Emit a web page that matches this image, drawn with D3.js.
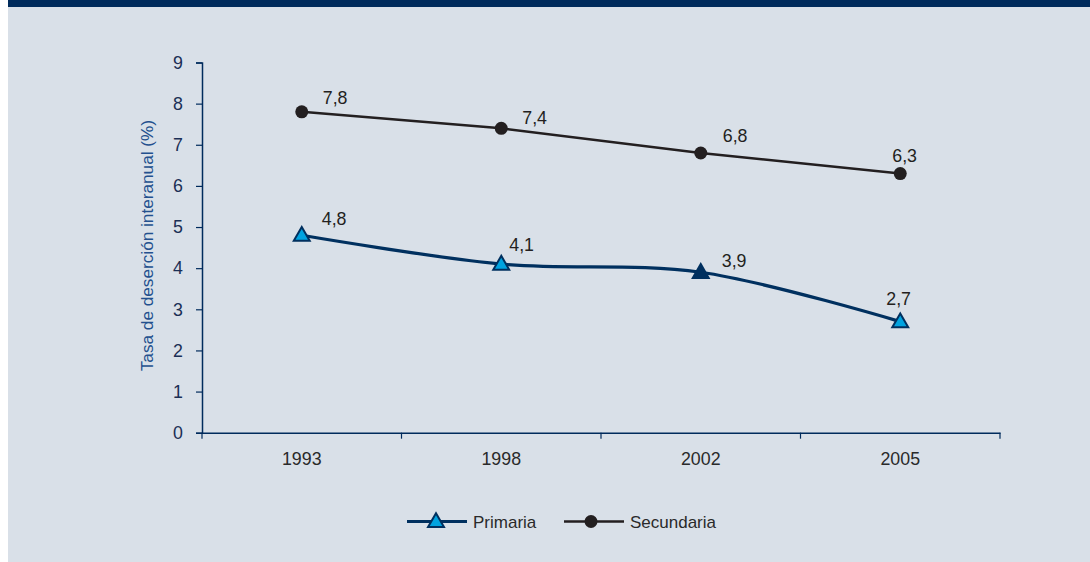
<!DOCTYPE html>
<html>
<head>
<meta charset="utf-8">
<script src="https://cdn.jsdelivr.net/npm/d3@7"></script>
<style>
html,body{margin:0;padding:0;background:#fff;}
svg{display:block;}
text{font-family:"Liberation Sans",Arial,sans-serif;}
</style>
</head>
<body>
<svg id="chart" width="1090" height="562"></svg>
<script>
const years = ["1993", "1998", "2002", "2005"];
const primaria = [4.8, 4.1, 3.9, 2.7];
const secundaria = [7.8, 7.4, 6.8, 6.3];
const yTicks = [0, 1, 2, 3, 4, 5, 6, 7, 8, 9];
const seriesNames = ["Primaria", "Secundaria"];
const yTitle = "Tasa de deserción interanual (%)";

// label placement (styling, not data)
const primLabelOff = [[20, -10], [8, -13], [21, -5], [-14, -17]];
const secLabelOff = [[21, -8], [21, -4], [22, -11], [-8, -12]];

const svg = d3.select("#chart");
const W = 1090, H = 562;
const navy = "#002b5c";
const fs = 17.8;

svg.append("rect").attr("x", 0).attr("y", 0).attr("width", W).attr("height", H).attr("fill", "#ffffff");
svg.append("rect").attr("x", 8).attr("y", 0).attr("width", W - 8).attr("height", H).attr("fill", "#d9e0e8");
svg.append("rect").attr("x", 8).attr("y", 0).attr("width", W - 8).attr("height", 7).attr("fill", navy);

const x = d3.scaleBand().domain(years).range([202, 1000]);
const y = d3.scaleLinear().domain([0, 9]).range([432.7, 62.5]);

// Y axis
const yAxis = svg.append("g").attr("transform", "translate(202,0)")
  .call(d3.axisLeft(y).tickValues(yTicks).tickSize(6).tickPadding(13).tickFormat(d3.format("d")));
yAxis.select(".domain").attr("stroke", navy).attr("stroke-width", 1.5);
yAxis.selectAll(".tick line").attr("stroke", navy).attr("stroke-width", 1.2);
yAxis.selectAll(".tick text").attr("fill", "#1b2f55").attr("font-size", fs)
  .attr("font-family", "'Liberation Sans', Arial, sans-serif");

// X axis
const xAxis = svg.append("g").attr("transform", "translate(0," + y(0) + ")")
  .call(d3.axisBottom(x).tickSize(0).tickPadding(20));
xAxis.select(".domain").attr("stroke", navy).attr("stroke-width", 1.5);
xAxis.selectAll(".tick text").attr("fill", "#2a2a2a").attr("font-size", fs)
  .attr("font-family", "'Liberation Sans', Arial, sans-serif");
// boundary ticks between bands
const bounds = years.map(d => x(d)).concat([x.range()[1]]);
svg.append("g").selectAll("line").data(bounds).join("line")
  .attr("x1", d => d).attr("x2", d => d)
  .attr("y1", y(0)).attr("y2", y(0) + 6)
  .attr("stroke", navy).attr("stroke-width", 1.2);

// Y title
svg.append("text")
  .attr("transform", "translate(153," + ((y(0) + y(9)) / 2 - 2) + ") rotate(-90)")
  .attr("text-anchor", "middle")
  .attr("fill", "#23508e")
  .attr("font-size", 17.2)
  .text(yTitle);

const cx = d => x(d) + x.bandwidth() / 2;

// Secundaria line
const lineS = d3.line().x((d, i) => cx(years[i])).y(d => y(d));
svg.append("path").datum(secundaria).attr("d", lineS)
  .attr("fill", "none").attr("stroke", "#231f20").attr("stroke-width", 2.5);
svg.append("g").selectAll("circle").data(secundaria).join("circle")
  .attr("cx", (d, i) => cx(years[i])).attr("cy", d => y(d)).attr("r", 6.5)
  .attr("fill", "#231f20");

// Primaria line (smoothed)
const lineP = d3.line().x((d, i) => cx(years[i])).y(d => y(d)).curve(d3.curveCardinal.tension(0));
svg.append("path").datum(primaria).attr("d", lineP)
  .attr("fill", "none").attr("stroke", "#00305f").attr("stroke-width", 3.2);

const tri = d3.symbol().type(d3.symbolTriangle).size(110);
svg.append("g").selectAll("path").data(primaria).join("path")
  .attr("d", tri)
  .attr("transform", (d, i) => "translate(" + cx(years[i]) + "," + (y(d) + 1) + ")")
  .attr("fill", (d, i) => i === 2 ? "#00305f" : "#00a3e0")
  .attr("stroke", "#00305f").attr("stroke-width", 2).attr("stroke-linejoin", "miter");

const fmt = v => String(v).replace(".", ",");

svg.append("g").selectAll("text").data(secundaria).join("text")
  .attr("x", (d, i) => cx(years[i]) + secLabelOff[i][0])
  .attr("y", (d, i) => y(d) + secLabelOff[i][1])
  .attr("fill", "#231f20").attr("font-size", fs)
  .text(d => fmt(d));

svg.append("g").selectAll("text").data(primaria).join("text")
  .attr("x", (d, i) => cx(years[i]) + primLabelOff[i][0])
  .attr("y", (d, i) => y(d) + primLabelOff[i][1])
  .attr("fill", "#231f20").attr("font-size", fs)
  .text(d => fmt(d));

// Legend
const lg = svg.append("g");
const ly = 521.5;
lg.append("line").attr("x1", 407).attr("x2", 467).attr("y1", ly).attr("y2", ly)
  .attr("stroke", "#00305f").attr("stroke-width", 3);
lg.append("path").attr("d", tri).attr("transform", "translate(436," + (ly + 1) + ")")
  .attr("fill", "#00a3e0").attr("stroke", "#00305f").attr("stroke-width", 2);
lg.append("text").attr("x", 473).attr("y", ly + 6).attr("fill", "#2a2a2a").attr("font-size", 17).text(seriesNames[0]);
lg.append("line").attr("x1", 564).attr("x2", 624).attr("y1", ly).attr("y2", ly)
  .attr("stroke", "#231f20").attr("stroke-width", 2.5);
lg.append("circle").attr("cx", 591).attr("cy", ly).attr("r", 6.5).attr("fill", "#231f20");
lg.append("text").attr("x", 630).attr("y", ly + 6).attr("fill", "#2a2a2a").attr("font-size", 17).text(seriesNames[1]);
</script>
</body>
</html>
